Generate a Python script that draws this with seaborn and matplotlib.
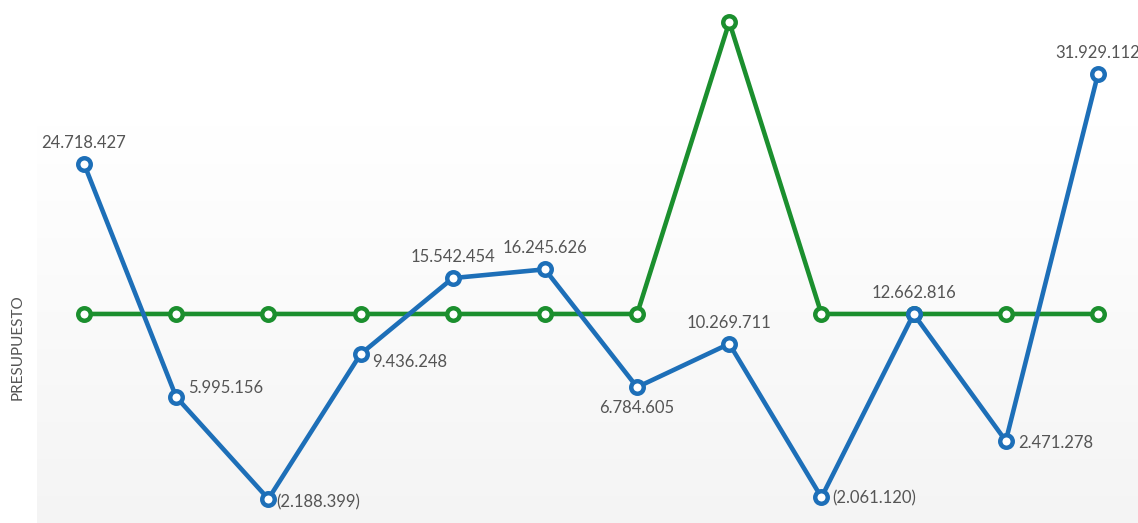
import numpy as np
import pandas as pd
import matplotlib
matplotlib.use("Agg")
import matplotlib.pyplot as plt
import seaborn as sns

periods = list(range(1, 13))
real_values = [24718427, 5995156, -2188399, 9436248, 15542454, 16245626,
               6784605, 10269711, -2061120, 12662816, 2471278, 31929112]
budget_values = [12662816, 12662816, 12662816, 12662816, 12662816, 12662816,
                 12662816, 36100000, 12662816, 12662816, 12662816, 12662816]
label_pos = ["above", "right", "right", "right", "above", "above",
             "below", "above", "right", "above", "right", "above"]

def fmt(v):
    s = f"{abs(v):,}".replace(",", ".")
    return f"({s})" if v < 0 else s

sns.set_theme(style="white")
plt.rcParams['font.family'] = ['Lato', 'DejaVu Sans']

fig = plt.figure(figsize=(11.38, 5.23), dpi=100)
ax = fig.add_axes([37/1138, 0, 1 - 37/1138, 1])

df = pd.DataFrame({"x": list(range(12)) * 2,
                   "y": real_values + budget_values,
                   "s": ["real"] * 12 + ["budget"] * 12})

blue = "#1d6fb8"
green = "#1b8f2e"

ymin, ymax = -4.12e6, 37.87e6
# gradient background
grad = np.ones((256, 1, 3))
t = np.linspace(0, 1, 256)  # 0 bottom -> 1 top (origin lower)
top_frac = 1 - 127/523
col = np.where(t >= top_frac, 1.0, 0.958 + (1.0 - 0.958) * (t / top_frac))
grad[:, 0, :] = col[:, None]
ax.imshow(grad, extent=[-0.51, 11.434, ymin, ymax], origin="lower",
          aspect="auto", zorder=0, interpolation="bilinear")

for key, color, z in [("budget", green, 2), ("real", blue, 3)]:
    sub = df[df.s == key]
    sns.lineplot(data=sub, x="x", y="y", ax=ax, color=color, linewidth=3.3,
                 marker="o", markersize=9, markerfacecolor="white",
                 markeredgecolor=color, markeredgewidth=3.2, zorder=z,
                 legend=False)

# per-label pixel nudges for right-side labels (dx, dy in px, dy positive = down)
right_nudge = {1: (12, -9), 2: (8, 3), 3: (12, 8), 8: (11, 1), 10: (12, 2)}
px = 72 / 100.0

for i, (v, pos) in enumerate(zip(real_values, label_pos)):
    kw = dict(fontsize=12, color="#555555", zorder=5)
    if pos == "above":
        ax.annotate(fmt(v), (i, v), xytext=(0, 9.5), textcoords="offset points",
                    ha="center", va="bottom", **kw)
    elif pos == "below":
        ax.annotate(fmt(v), (i, v), xytext=(0, -9), textcoords="offset points",
                    ha="center", va="top", **kw)
    else:
        dx, dy = right_nudge[i]
        ax.annotate(fmt(v), (i, v), xytext=(dx * px, -dy * px), textcoords="offset points",
                    ha="left", va="center", **kw)

ax.set_xlim(-0.51, 11.434)
ax.set_ylim(ymin, ymax)
ax.set_xticks([])
ax.set_yticks([])
ax.set_xlabel("")
ax.set_ylabel("")
for sp in ax.spines.values():
    sp.set_visible(False)

fig.text(18/1138, 1 - 347/523, "PRESUPUESTO", rotation=90, ha="center",
         va="center", fontsize=11, color="#555555")

fig.savefig("out.png", dpi=100, facecolor="white")
